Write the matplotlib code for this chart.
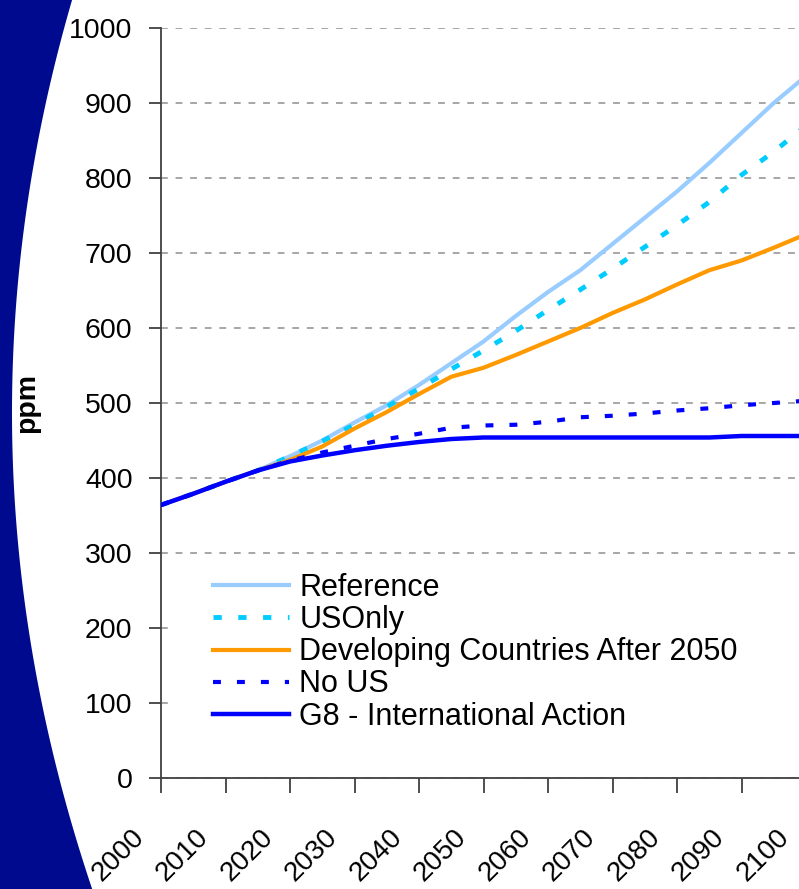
import matplotlib
matplotlib.use("Agg")
import matplotlib.pyplot as plt
import matplotlib.transforms as mtransforms
from matplotlib.patches import Polygon, Rectangle
import numpy as np

plt.rcParams['font.family'] = ['Liberation Sans', 'DejaVu Sans']

# CO2 concentration scenarios (ppm), 5-year steps
years = [2000, 2005, 2010, 2015, 2020, 2025, 2030, 2035, 2040, 2045, 2050,
         2055, 2060, 2065, 2070, 2075, 2080, 2085, 2090, 2095, 2100]
reference = [364, 379, 395, 410, 429, 450, 474, 497, 524, 553, 582,
             616, 648, 677, 712, 747, 782, 820, 860, 900, 936]
us_only = [364, 379, 395, 410, 429, 449, 471, 495, 519, 545, 570,
           596, 624, 651, 679, 708, 737, 768, 804, 835, 870]
developing = [364, 379, 395, 410, 424, 442, 466, 488, 512, 535, 547,
              564, 582, 600, 620, 638, 658, 677, 690, 707, 725]
no_us = [364, 379, 395, 410, 423, 434, 443, 452, 459, 467, 470,
         471, 475, 481, 483, 486, 490, 493, 497, 500, 503]
g8 = [364, 379, 395, 410, 422, 430, 437, 443, 448, 452, 454,
      454, 454, 454, 454, 454, 454, 454, 456, 456, 456]

labels = ['Reference', 'USOnly', 'Developing Countries After 2050',
          'No US', 'G8 - International Action']

W, H = 799, 889
fig = plt.figure(figsize=(W / 100, H / 100), dpi=100)
fig.patch.set_facecolor('white')

# navy slide border on the left
yy = np.linspace(-5, H + 5, 200)
xx = 12 + 3.53e-4 * (yy - 412.5) ** 2
pts = [(-5, -5)] + [(x, y) for x, y in zip(xx, yy)] + [(-5, H + 5)]
pts = [(x / W, 1 - y / H) for x, y in pts]
fig.patches.append(Polygon(pts, closed=True, transform=fig.transFigure,
                           facecolor='#000A8F', edgecolor='none', zorder=0))

ax = fig.add_axes([161 / W, 1 - 778 / H, 645 / W, 750 / H])
ax.set_facecolor('white')
ax.set_axisbelow(True)

ax.plot(years, reference, color='#99CCFF', lw=3.0, zorder=3)
ax.plot(years, us_only, color='#00CCFF', lw=3.5, ls=(0, (1.7, 3.4)),
        dash_capstyle='butt', zorder=3)
ax.plot(years, developing, color='#FF9900', lw=3.0, zorder=3)
ax.plot(years, no_us, color='#0000FF', lw=3.0, ls=(0, (1.9, 3.85)),
        dash_capstyle='butt', zorder=3)
ax.plot(years, g8, color='#0000FF', lw=3.2, zorder=3)

ax.set_xlim(2000, 2100)
ax.set_ylim(0, 1000)
ax.set_yticks(range(0, 1001, 100))
ax.set_xticks(range(2000, 2101, 10))

ax.yaxis.grid(True, color='#A6A6A6', lw=1.4, ls=(0, (3.5, 4)))

for s in ['top', 'right']:
    ax.spines[s].set_visible(False)
for s in ['left', 'bottom']:
    ax.spines[s].set_color('#404040')
    ax.spines[s].set_linewidth(1.3)

ax.tick_params(axis='y', direction='out', length=8.5, width=1.3,
               color='#404040', labelsize=20.5, pad=12)
ax.tick_params(axis='x', direction='out', length=11, width=1.3,
               color='#404040', labelsize=20, pad=22)

offset = mtransforms.ScaledTranslation(-30 / 100, 0, fig.dpi_scale_trans)
for lab in ax.get_xticklabels():
    lab.set_rotation(45)
    lab.set_rotation_mode('anchor')
    lab.set_ha('right')
    lab.set_va('top')
    lab.set_transform(lab.get_transform() + offset)

fig.text(27 / W, 1 - 403 / H, 'ppm', rotation=90, ha='center', va='center',
         fontsize=20.5, fontweight='bold')

# white legend backing hides the lower gridlines
ax.add_patch(Rectangle((0.017, 0.06), 0.983, 0.23, transform=ax.transAxes,
                       facecolor='white', edgecolor='none', zorder=1))

leg = ax.legend(ax.get_lines(), labels, loc='upper left',
                bbox_to_anchor=(213 / W, 1 - 573 / H),
                bbox_transform=fig.transFigure, frameon=False,
                fontsize=22, handlelength=2.5, handletextpad=0.33,
                labelspacing=0.07, borderpad=0, borderaxespad=0)

fig.savefig('out.png', dpi=100)
